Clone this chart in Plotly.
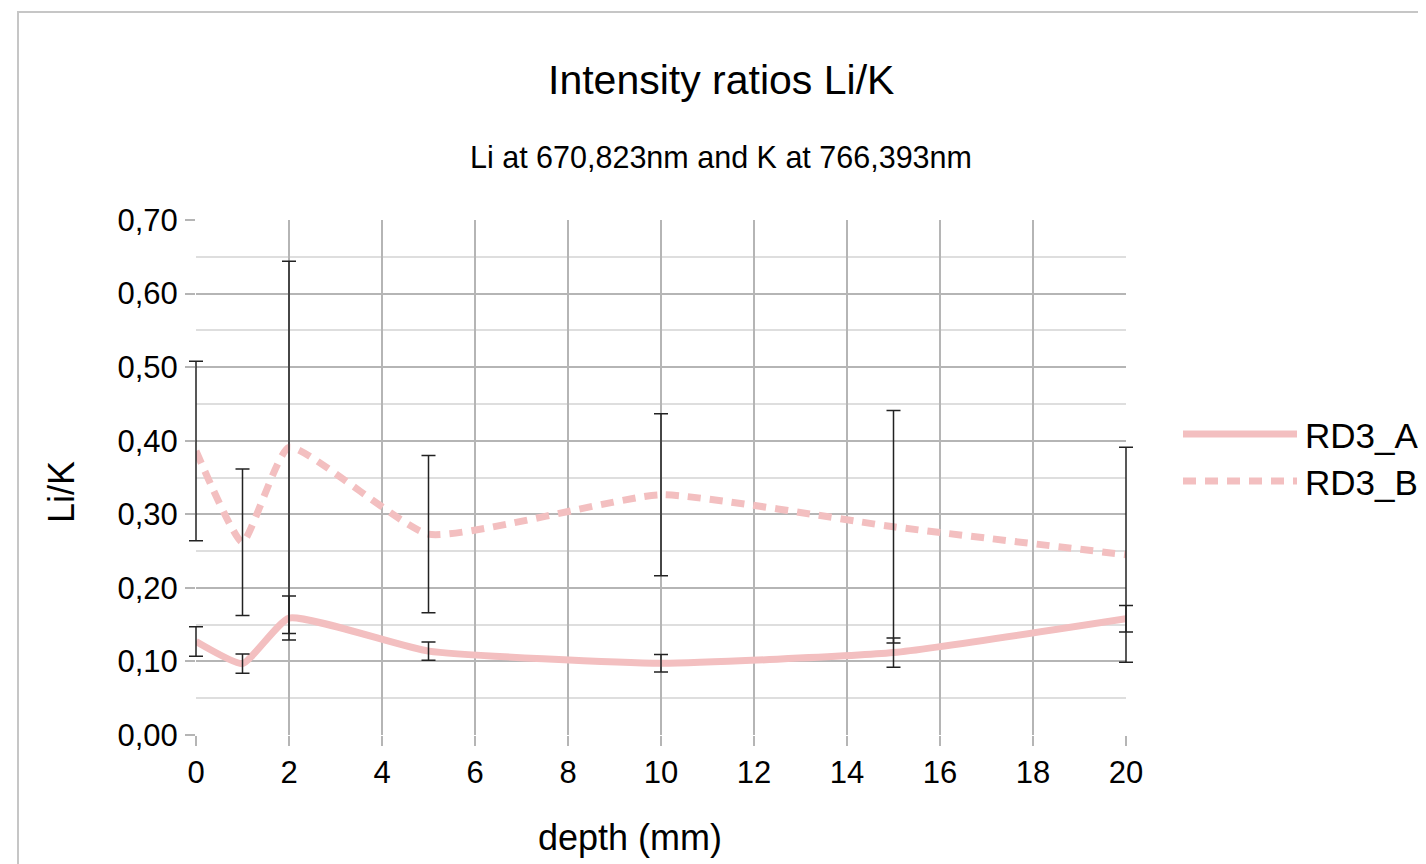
import plotly.graph_objects as go

# ---- data ----
depth = [0, 1, 2, 5, 10, 15, 20]
rd3_a = [0.127, 0.097, 0.159, 0.114, 0.0975, 0.112, 0.158]
rd3_a_err = [0.020, 0.013, 0.030, 0.0125, 0.012, 0.020, 0.018]
rd3_b = [0.386, 0.262, 0.391, 0.273, 0.3265, 0.283, 0.245]
rd3_b_err = [0.122, 0.0995, 0.253, 0.107, 0.110, 0.158, 0.146]
series_names = ["RD3_A", "RD3_B"]
y_ticks = [0.0, 0.1, 0.2, 0.3, 0.4, 0.5, 0.6, 0.7]
x_ticks = [0, 2, 4, 6, 8, 10, 12, 14, 16, 18, 20]
x_range = [0, 20]
y_range = [0, 0.70]

PINK = "#f3bfc0"
FONT = "Liberation Sans, Arial, sans-serif"

W, H = 1426, 864
OFF = 8  # page body margin in the browser
L, R, T, B = 196 - OFF, 1126 - OFF, 220 - OFF, 735 - OFF  # plot area in px
PAD = 20  # extra room so error-bar caps at the edges are not clipped
PL, PR = L - PAD, R + PAD
dom = [PAD / (PR - PL), 1 - PAD / (PR - PL)]
unit = (R - L) / (x_range[1] - x_range[0])
x2_range = [x_range[0] - PAD / unit, x_range[1] + PAD / unit]


def px(x):
    return (x - OFF - PL) / (PR - PL)


def py(y):
    return (B - (y - OFF)) / (B - T)


fig = go.Figure()
err_style = dict(type="data", visible=True, color="#222222", thickness=1.5, width=7)

for vals, dash, name in [(rd3_a, None, series_names[0]), (rd3_b, "13px,9px", series_names[1])]:
    fig.add_trace(go.Scatter(
        x=depth, y=vals, name=name, mode="lines", cliponaxis=False,
        line=dict(color=PINK, width=7, shape="spline", smoothing=0.45, dash=dash),
        showlegend=False, xaxis="x", yaxis="y"))

for vals, errs, name in [(rd3_a, rd3_a_err, series_names[0]), (rd3_b, rd3_b_err, series_names[1])]:
    fig.add_trace(go.Scatter(
        x=depth, y=vals, name=name + " error", mode="markers",
        marker=dict(size=1, opacity=0),
        error_y=dict(array=errs, **err_style), showlegend=False,
        xaxis="x2", yaxis="y2", hoverinfo="skip"))

grid_major = "#b5b5b5"
grid_minor = "#dedede"

fig.update_layout(
    width=W, height=H,
    margin=dict(l=PL, r=W - PR, t=T, b=H - B, autoexpand=False),
    paper_bgcolor="white", plot_bgcolor="rgba(0,0,0,0)",
    separators=",.",
    font=dict(family=FONT, color="black", size=31),
    xaxis=dict(domain=dom, range=x_range, tickvals=x_ticks, ticks="outside", ticklen=10,
               tickcolor=grid_major, tickwidth=1.5, showgrid=True, gridcolor=grid_major,
               gridwidth=1.5, zeroline=False, showline=False,
               tickfont=dict(size=31), ticklabelstandoff=0, anchor="y"),
    yaxis=dict(range=y_range, tickvals=y_ticks, tickformat=".2f", ticks="outside",
               ticklen=10, tickcolor=grid_major, tickwidth=1.5, showgrid=True,
               gridcolor=grid_major, gridwidth=1.5, zeroline=False, showline=False,
               tickfont=dict(size=31), ticklabelstandoff=1, anchor="x",
               minor=dict(dtick=0.05, tick0=0, showgrid=True, gridcolor=grid_minor,
                          gridwidth=1.5, ticks="")),
    xaxis2=dict(domain=[0, 1], range=x2_range, visible=False, anchor="y2", showgrid=False),
    yaxis2=dict(domain=[0, 1], range=y_range, visible=False, anchor="x2", showgrid=False),
    showlegend=False,
)

annotations = [
    dict(text="Intensity ratios Li/K", x=px(721), y=py(80), font=dict(size=41)),
    dict(text="Li at 670,823nm and K at 766,393nm", x=px(721), y=py(157), font=dict(size=30.5)),
    dict(text="depth (mm)", x=px(630), y=py(837), font=dict(size=36)),
    dict(text="Li/K", x=px(62), y=py(492), font=dict(size=36), textangle=-90),
    dict(text=series_names[0], x=px(1303), y=py(435), xanchor="left", font=dict(size=35)),
    dict(text=series_names[1], x=px(1303), y=py(482), xanchor="left", font=dict(size=35)),
]
for a in annotations:
    a.setdefault("xanchor", "center")
    a.update(xref="paper", yref="paper", yanchor="middle", showarrow=False)
fig.update_layout(annotations=annotations)

shapes = [
    # outer frame
    dict(type="rect", xref="paper", yref="paper", x0=px(18), x1=px(1450), y0=py(890), y1=py(12),
         line=dict(color="#c6c6c6", width=2), fillcolor="rgba(0,0,0,0)", layer="below"),
    # legend keys
    dict(type="line", xref="paper", yref="paper", x0=px(1183), x1=px(1297), y0=py(434), y1=py(434),
         line=dict(color=PINK, width=7)),
    dict(type="line", xref="paper", yref="paper", x0=px(1183), x1=px(1297), y0=py(481), y1=py(481),
         line=dict(color=PINK, width=7, dash="13px,9px")),
]
fig.update_layout(shapes=shapes)

fig.write_html("out.html")
